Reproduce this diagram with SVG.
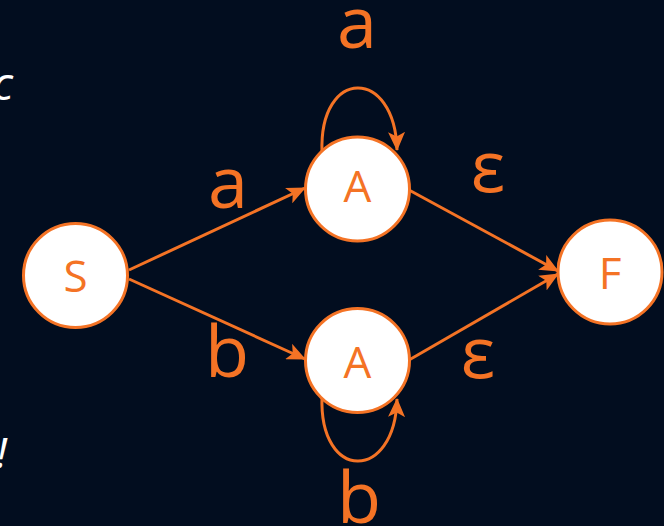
<svg xmlns="http://www.w3.org/2000/svg" width="664" height="526" viewBox="0 0 664 526">
  <style>
    .bg { fill: #020d1f; }
    .node circle { fill: #ffffff; stroke: #f47325; stroke-width: 3; }
    .node text { fill: #f47325; font-family: "Open Sans", "DejaVu Sans", sans-serif; font-weight: 400; font-size: 44px; text-anchor: middle; }
    .edge { fill: none; stroke: #f47325; stroke-width: 3; }
    .lbl { fill: #f47325; font-family: "Open Sans", "DejaVu Sans", sans-serif; font-size: 72px; text-anchor: middle; }
    .side { fill: #ffffff; font-family: "Open Sans", "DejaVu Sans", sans-serif; font-style: italic; text-anchor: end; }
  </style>
  <defs>
    <marker id="arrow" viewBox="0 0 19 17" refX="18" refY="8.5" markerWidth="19" markerHeight="17" markerUnits="userSpaceOnUse" orient="auto">
      <path d="M0,0 L19,8.5 L0,17 L4.5,8.5 z" fill="#f47325"/>
    </marker>
  </defs>

  <rect class="bg" x="0" y="0" width="664" height="526"/>

  <!-- cropped slide text at the left edge -->
  <text class="side" x="13" y="100" font-size="46">c</text>
  <text class="side" x="7" y="468" font-size="42">!</text>

  <!-- transitions -->
  <g id="edges">
    <path class="edge" d="M129,270 L305,188" marker-end="url(#arrow)"/>
    <path class="edge" d="M129,279 L305,359" marker-end="url(#arrow)"/>
    <path class="edge" d="M409,190 L558,271" marker-end="url(#arrow)"/>
    <path class="edge" d="M409,360 L558,274" marker-end="url(#arrow)"/>
    <path class="edge" d="M322,152 C319,67 395,67 397,150" marker-end="url(#arrow)"/>
    <path class="edge" d="M322,397 C319,482 395,482 397,399" marker-end="url(#arrow)"/>
  </g>

  <!-- transition labels -->
  <g id="labels">
    <text class="lbl" x="357" y="48">a</text>
    <text class="lbl" x="228" y="208">a</text>
    <text class="lbl" x="227" y="377">b</text>
    <text class="lbl" x="488" y="192">ε</text>
    <text class="lbl" x="478" y="378">ε</text>
    <text class="lbl" x="359" y="523">b</text>
  </g>

  <!-- states -->
  <g id="S" class="node">
    <circle cx="75.5" cy="275.5" r="52"/>
    <text x="75.5" y="292">S</text>
  </g>
  <g id="A1" class="node">
    <circle cx="357.5" cy="189" r="52"/>
    <text x="357.5" y="202">A</text>
  </g>
  <g id="A2" class="node">
    <circle cx="357.5" cy="360.5" r="52"/>
    <text x="357.5" y="378">A</text>
  </g>
  <g id="F" class="node">
    <circle cx="610" cy="272" r="52"/>
    <text x="610" y="289">F</text>
  </g>
</svg>
